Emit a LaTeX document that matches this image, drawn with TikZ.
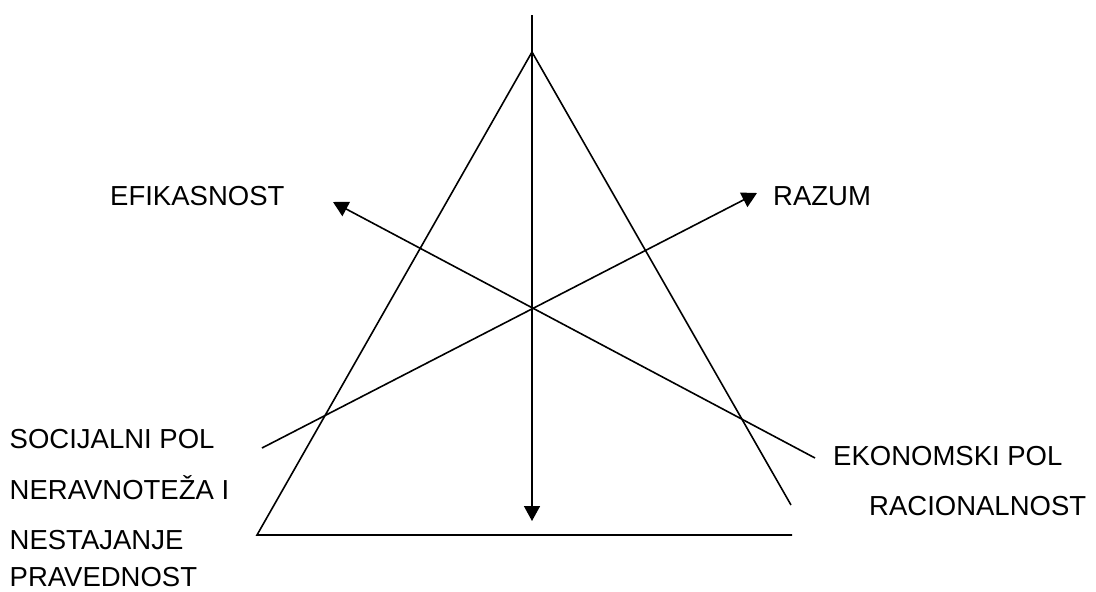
\documentclass[tikz,border=0pt]{standalone}
\usepackage{fontspec}
\setmainfont{Liberation Sans}
\usetikzlibrary{arrows.meta}
\begin{document}
\begin{tikzpicture}[x=1pt,y=-1pt,
  ln/.style={line width=1.6pt, line cap=butt},
  arr/.style={ln, -{Triangle[length=15pt,width=16pt]}},
  lbl/.style={anchor=base west, inner sep=0pt, font=\fontsize{27.5}{32}\selectfont}]
\useasboundingbox (0,0) rectangle (1096,592);
% triangle
\coordinate (apex) at (532,52);
\coordinate (bl) at (257,535);
\coordinate (br) at (792,535);
\coordinate (rs) at (791,505);
\draw[ln] (rs) -- (apex) -- (bl) -- (br);
% vertical arrow
\coordinate (vtop) at (532,15);
\coordinate (vtip) at (532,521);
\draw[arr] (vtop) -- (vtip);
% diagonal arrows
\coordinate (rstart) at (262,448);
\coordinate (rtip) at (757,193);
\draw[arr] (rstart) -- (rtip);
\coordinate (estart) at (815,458);
\coordinate (etip) at (333,202);
\draw[arr] (estart) -- (etip);
% labels
\node[lbl] (efi) at (110,205) {EFIKASNOST};
\node[lbl] (raz) at (773,205) {RAZUM};
\node[lbl] (soc) at (9.5,448) {SOCIJALNI POL};
\node[lbl] (ner) at (9.5,499) {NERAVNOTEŽA I};
\node[lbl] (nes) at (9.5,549) {NESTAJANJE};
\node[lbl] (pra) at (9.5,586) {PRAVEDNOST};
\node[lbl] (eko) at (833,465) {EKONOMSKI POL};
\node[lbl] (rac) at (869,515) {RACIONALNOST};
\end{tikzpicture}
\end{document}
